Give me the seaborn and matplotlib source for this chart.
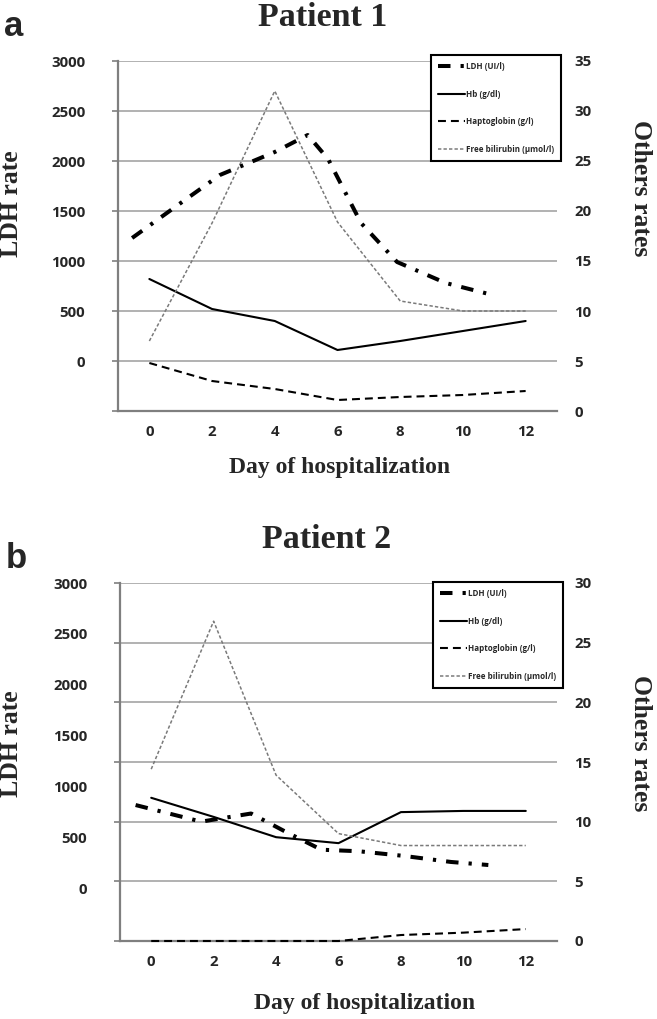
import numpy as np
import matplotlib
matplotlib.use("Agg")
import matplotlib.pyplot as plt
from matplotlib.lines import Line2D
import seaborn as sns

# ---- data ----
days = [0, 2, 4, 6, 8, 10, 12]

# patient 1
p1_ldh_days = [-0.55, 1.0, 2.25, 4.0, 5.05, 5.7, 6.75, 7.9, 9.45, 10.95]
p1_ldh = [1230, 1580, 1860, 2090, 2260, 2020, 1380, 990, 780, 660]
p1_hb = [13.2, 10.2, 9.0, 6.1, 7.0, 8.0, 9.0]
p1_hapto = [4.8, 3.0, 2.2, 1.1, 1.4, 1.6, 2.0]
p1_bili = [7.0, 18.8, 32.0, 18.9, 11.0, 10.0, 10.0]

# patient 2
p2_ldh_days = [-0.5, 1.6, 3.2, 4.25, 5.45, 6.65, 8.1, 9.6, 10.8]
p2_ldh = [823, 660, 740, 570, 385, 370, 324, 265, 235]
p2_hb = [12.0, 10.4, 8.7, 8.2, 10.8, 10.9, 10.9]
p2_hapto = [0.0, 0.0, 0.0, 0.0, 0.5, 0.7, 1.0]
p2_bili = [14.4, 26.8, 13.9, 9.0, 8.0, 8.0, 8.0]

ldh_ticks = [0, 500, 1000, 1500, 2000, 2500, 3000]
legend_labels = ["LDH (UI/l)", "Hb (g/dl)", "Haptoglobin (g/l)", "Free bilirubin (\u00b5mol/l)"]

sns.set_style("white")
plt.rcParams["font.family"] = ["Open Sans", "DejaVu Sans"]

W, H = 657, 1019
fig = plt.figure(figsize=(W / 100, H / 100), dpi=100)

ldh_style = dict(color="black", lw=2.9, linestyle=(0, (3.1, 2.5, 0.8, 2.5)))
hb_style = dict(color="black", lw=1.5, linestyle="-")
hapto_style = dict(color="black", lw=1.5, linestyle=(0, (3.8, 2.4)))
bili_style = dict(color="#7a7a7a", lw=1.1, linestyle=(0, (2.2, 1.4)))

serif = "Liberation Serif"
tick_fs = 10.8


def draw_panel(box, ldh_days, ldh, hb, hapto, bili, others_max, ldh_low,
               letter, title, title_xy, letter_xy, xlab_xy, ylab_y, oth_y, leg_xy):
    left, top, right, bottom = box
    ax = fig.add_axes([left / W, 1 - bottom / H, (right - left) / W, (bottom - top) / H])
    ax2 = ax.twinx()

    # others (right scale): gridlines + left spine ticks
    sns.lineplot(x=days, y=hb, ax=ax, clip_on=False, zorder=3, **hb_style)
    sns.lineplot(x=days, y=hapto, ax=ax, clip_on=False, zorder=3, **hapto_style)
    sns.lineplot(x=days, y=bili, ax=ax, clip_on=False, zorder=3, **bili_style)
    ax.set_ylim(0, others_max)
    ax.set_yticks(np.arange(0, others_max + 1, 5))
    ax.yaxis.grid(True, color="#9c9c9c", lw=1.1)
    ax.set_axisbelow(True)
    ax.tick_params(axis="y", left=True, right=False, labelleft=False, labelright=True,
                   length=4.5, width=1.2, color="#7f7f7f", direction="out", pad=8,
                   labelsize=tick_fs)
    for t in ax.get_yticklabels():
        t.set_fontweight("bold")

    # x axis: labels on even days, tick marks between them
    ax.set_xlim(-1, 13)
    ax.set_xticks(days)
    ax.set_xticks(np.arange(-1, 14, 2), minor=True)
    ax.tick_params(axis="x", which="major", length=0, pad=10, labelsize=tick_fs)
    ax.tick_params(axis="x", which="minor", length=4.5, width=1.2, color="#7f7f7f",
                   direction="out")
    for t in ax.get_xticklabels():
        t.set_fontweight("bold")
    ax.set_xlabel("")
    ax.set_ylabel("")

    for s in ["top", "right"]:
        ax.spines[s].set_visible(False)
        ax2.spines[s].set_visible(False)
    for s in ["left", "bottom"]:
        ax.spines[s].set_color("#7f7f7f")
        ax.spines[s].set_linewidth(1.6)
    ax2.spines["left"].set_visible(False)
    ax2.spines["bottom"].set_visible(False)

    # LDH (left scale)
    sns.lineplot(x=ldh_days, y=ldh, ax=ax2, **ldh_style)
    ax2.set_ylim(ldh_low, 3000)
    ax2.set_yticks(ldh_ticks)
    ax2.tick_params(axis="y", left=False, right=False, labelleft=True, labelright=False,
                    length=0, pad=23.5, labelsize=tick_fs)
    for t in ax2.get_yticklabels():
        t.set_fontweight("bold")
    ax2.set_ylabel("")

    handles = [Line2D([], [], **ldh_style), Line2D([], [], **hb_style),
               Line2D([], [], **hapto_style), Line2D([], [], **bili_style)]
    leg = ax2.legend(handles, legend_labels, loc="upper left",
                     bbox_to_anchor=(leg_xy[0] / W, 1 - leg_xy[1] / H),
                     bbox_transform=fig.transFigure, frameon=True, fancybox=False,
                     framealpha=1, edgecolor="black",
                     handlelength=3.3, handletextpad=0.1, labelspacing=2.3,
                     borderpad=0.9, borderaxespad=0,
                     prop={"weight": "bold", "size": 5.8})
    leg.get_frame().set_linewidth(1.5)

    fig.text(title_xy[0] / W, 1 - title_xy[1] / H, title, ha="center", va="center",
             family=serif, fontweight="bold", fontsize=24.5)
    fig.text(letter_xy[0] / W, 1 - letter_xy[1] / H, letter, ha="center", va="center",
             family="Liberation Sans", fontweight="bold", fontsize=25)
    fig.text(xlab_xy[0] / W, 1 - xlab_xy[1] / H, "Day of hospitalization", ha="center",
             va="center", family=serif, fontweight="bold", fontsize=17)
    fig.text(12 / W, 1 - ylab_y / H, "LDH rate", ha="center", va="center", rotation=90,
             family=serif, fontweight="bold", fontsize=18.5)
    fig.text(641 / W, 1 - oth_y / H, "Others rates", ha="center", va="center",
             rotation=270, family=serif, fontweight="bold", fontsize=18.5)


draw_panel((118, 61, 557, 411), p1_ldh_days, p1_ldh, p1_hb, p1_hapto, p1_bili, 35, -500,
           "a", "Patient 1", (323, 17), (14, 27), (340, 468), 204, 188, (431, 55))
draw_panel((120, 583, 557, 941), p2_ldh_days, p2_ldh, p2_hb, p2_hapto, p2_bili, 30, -510,
           "b", "Patient 2", (327, 540), (16, 558), (365, 1003), 744, 743, (433, 582))

fig.savefig("out.png", dpi=100)
